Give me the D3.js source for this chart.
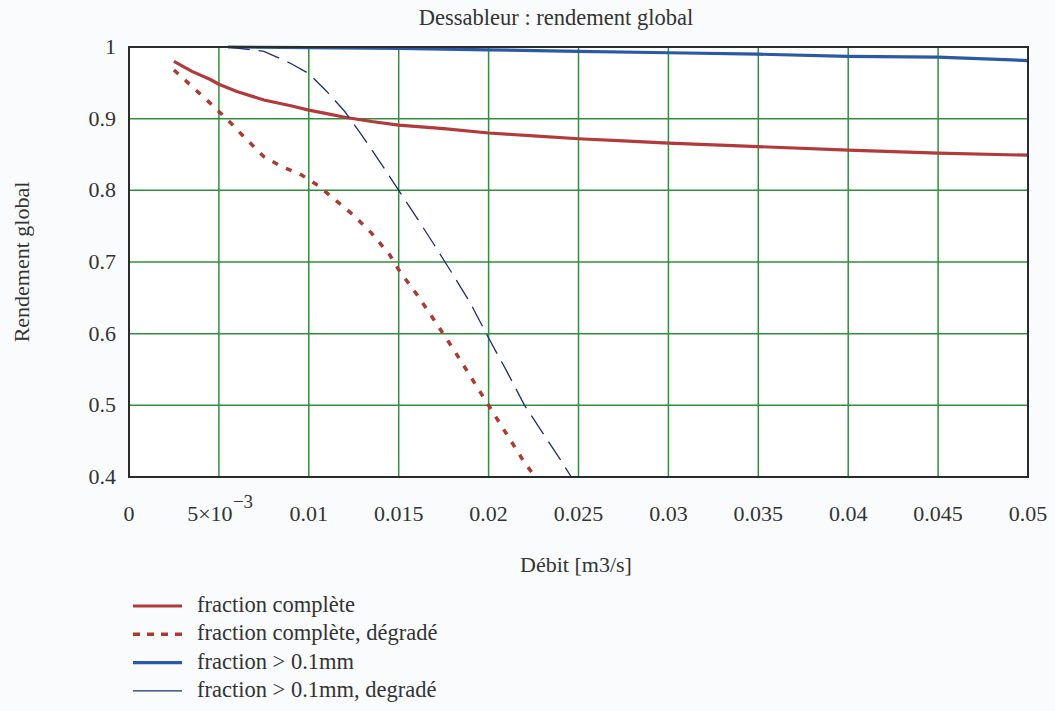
<!DOCTYPE html>
<html><head><meta charset="utf-8">
<script src="https://cdn.jsdelivr.net/npm/d3@7"></script>
<style>
body{margin:0;background:#f9fbfd;}
svg{display:block;}
svg text{font-family:"Liberation Serif","DejaVu Serif","Times New Roman",Times,serif;}
</style></head>
<body><svg id="c" width="1055" height="711"></svg>
<script>
// Data (x = Débit m3/s, y = rendement global)
const redSolidX = [0.0025,0.0035,0.0045,0.005,0.006,0.0075,0.009,0.01,0.011,0.012,0.0135,0.015,0.0175,0.02,0.0225,0.025,0.0275,0.03,0.035,0.04,0.045,0.05];
const redSolidY = [0.98,0.966,0.955,0.948,0.938,0.926,0.918,0.912,0.907,0.902,0.896,0.891,0.886,0.880,0.876,0.872,0.869,0.866,0.861,0.856,0.852,0.849];
const redDotX = [0.0025,0.0035,0.0045,0.0055,0.0065,0.0075,0.0085,0.0095,0.0105,0.0115,0.0125,0.0135,0.0145,0.015,0.016,0.017,0.018,0.019,0.02,0.021,0.022,0.0226];
const redDotY = [0.968,0.945,0.922,0.898,0.872,0.847,0.833,0.823,0.807,0.786,0.765,0.740,0.710,0.689,0.655,0.618,0.580,0.540,0.500,0.460,0.420,0.400];
const blueSolidX = [0.0055,0.01,0.015,0.02,0.025,0.03,0.035,0.04,0.045,0.05];
const blueSolidY = [1.0,0.999,0.998,0.996,0.994,0.992,0.990,0.987,0.986,0.981];
const blueDashX = [0.0055,0.0075,0.009,0.01,0.011,0.012,0.013,0.014,0.015,0.016,0.017,0.018,0.019,0.02,0.021,0.022,0.023,0.024,0.0246];
const blueDashY = [1.0,0.994,0.977,0.963,0.938,0.910,0.875,0.838,0.800,0.762,0.723,0.683,0.642,0.594,0.548,0.500,0.462,0.424,0.400];
const xTicks = [0,0.005,0.01,0.015,0.02,0.025,0.03,0.035,0.04,0.045,0.05];
const xTickLabels = ["0","5×10","0.01","0.015","0.02","0.025","0.03","0.035","0.04","0.045","0.05"];
const yTicks = [0.4,0.5,0.6,0.7,0.8,0.9,1];
const yTickLabels = ["0.4","0.5","0.6","0.7","0.8","0.9","1"];
const legendLabels = ["fraction complète","fraction complète, dégradé","fraction > 0.1mm","fraction > 0.1mm, degradé"];

const FONT = '"Liberation Serif","DejaVu Serif","Times New Roman",Times,serif';
const svg = d3.select("#c");
const x = d3.scaleLinear().domain([0,0.05]).range([129,1028]);
const y = d3.scaleLinear().domain([0.4,1]).range([477,47]);

svg.append("rect").attr("x",x(0)).attr("y",y(1)).attr("width",x(0.05)-x(0)).attr("height",y(0.4)-y(1)).attr("fill","#ffffff");

// grid
const grid = svg.append("g").attr("stroke","#2f8f3c").attr("stroke-width",1.5);
xTicks.slice(1,-1).forEach(t=>grid.append("line").attr("x1",x(t)).attr("x2",x(t)).attr("y1",y(1)).attr("y2",y(0.4)));
yTicks.slice(1,-1).forEach(t=>grid.append("line").attr("x1",x(0)).attr("x2",x(0.05)).attr("y1",y(t)).attr("y2",y(t)));

const line = d3.line().x(d=>x(d[0])).y(d=>y(d[1]));
const zip = (a,b)=>a.map((v,i)=>[v,b[i]]);
const series = [
  {xs:redSolidX, ys:redSolidY, color:"#b23a3a", w:3.2, dash:null},
  {xs:redDotX, ys:redDotY, color:"#aa3b32", w:3.5, dash:"6,9"},
  {xs:blueSolidX, ys:blueSolidY, color:"#2a5aa6", w:3.2, dash:null},
  {xs:blueDashX, ys:blueDashY, color:"#1c2f6e", w:1.3, dash:"22,9"}
];
series.forEach(s=>{
  svg.append("path").datum(zip(s.xs,s.ys)).attr("d",line).attr("fill","none")
    .attr("stroke",s.color).attr("stroke-width",s.w).attr("stroke-dasharray",s.dash);
});

// border
svg.append("rect").attr("x",x(0)).attr("y",y(1)).attr("width",x(0.05)-x(0)).attr("height",y(0.4)-y(1))
  .attr("fill","none").attr("stroke","#2b2b2b").attr("stroke-width",2);

function txt(g){ return g.append("text").attr("font-family",FONT).attr("fill","#333"); }

// axes text
const xa = svg.append("g");
xTicks.forEach((t,i)=>{
  const tx = txt(xa).attr("x",x(t)).attr("y",521).attr("text-anchor","middle").attr("font-size",22);
  if(i===1){
    tx.text(xTickLabels[i]).attr("x",x(t)-9);
    txt(xa).attr("x",x(t)+14).attr("y",508).attr("font-size",19).attr("text-anchor","start").text("−3");
  } else tx.text(xTickLabels[i]);
});
const ya = svg.append("g");
yTicks.forEach((t,i)=>{
  txt(ya).attr("x",116).attr("y",y(t)+7).attr("text-anchor","end").attr("font-size",22).text(yTickLabels[i]);
});

txt(svg).attr("x",556).attr("y",25).attr("text-anchor","middle").attr("font-size",22.5).text("Dessableur : rendement global");
txt(svg).attr("x",576).attr("y",572).attr("text-anchor","middle").attr("font-size",22).text("Débit [m3/s]");
txt(svg).attr("transform","translate(29,262) rotate(-90)").attr("text-anchor","middle").attr("font-size",22).text("Rendement global");

// legend
const lg = svg.append("g");
legendLabels.forEach((lab,i)=>{
  const yy = 606 + i*28.3;
  const s = series[i];
  lg.append("line").attr("x1",133).attr("x2",182).attr("y1",yy).attr("y2",yy)
    .attr("stroke",s.color).attr("stroke-width",s.w).attr("stroke-dasharray",i===1?"7,7":null);
  txt(lg).attr("x",197).attr("y",yy+6).attr("font-size",22.5).text(lab);
});
</script></body></html>
